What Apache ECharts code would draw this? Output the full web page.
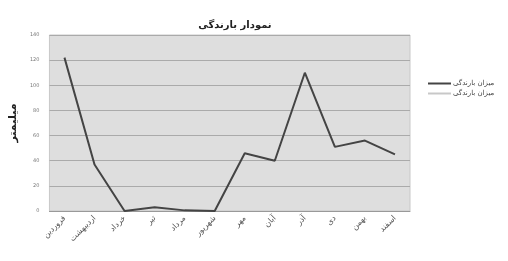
<!DOCTYPE html>
<html>
<head>
<meta charset="utf-8">
<script src="https://cdn.jsdelivr.net/npm/echarts@6/dist/echarts.min.js"></script>
<style>
  html, body { margin: 0; padding: 0; background: #fff; }
  #chart { width: 508px; height: 261px; }
</style>
</head>
<body>
<div id="chart"></div>
<script>
const months = ["فروردین", "اردیبهشت", "خرداد", "تیر", "مرداد", "شهریور", "مهر", "آبان", "آذر", "دی", "بهمن", "اسفند"];
const rainfall = [122, 37, 0, 3, 0.5, 0, 46, 40, 110, 51, 56, 45];
const rainfall2 = [];
const seriesNames = ["میزان بارندگی", "میزان بارندگی "];

const mychart = echarts.init(document.getElementById("chart"));
const font = "'DejaVu Sans', 'Noto Sans', sans-serif";
const option = {
  animation: false,
  title: {
    text: "نمودار بارندگی",
    left: 230,
    textAlign: "center",
    top: 15,
    textStyle: { fontSize: 10, fontWeight: "bold", color: "#222", fontFamily: font }
  },
  legend: {
    orient: "vertical",
    left: 423,
    top: 75,
    itemWidth: 23,
    itemHeight: 2,
    itemGap: 3,
    icon: "rect",
    textStyle: { fontSize: 7, color: "#444", fontFamily: font, padding: [0, 0, 0, -3] },
    data: seriesNames
  },
  grid: {
    left: 45,
    right: 98,
    top: 35,
    bottom: 50,
    show: true,
    backgroundColor: "#dedede",
    borderColor: "#c8c8c8",
    borderWidth: 1
  },
  xAxis: {
    type: "category",
    data: months,
    boundaryGap: true,
    axisLine: { lineStyle: { color: "#999" } },
    axisTick: { show: false },
    axisLabel: {
      interval: 0,
      rotate: 45,
      fontSize: 8,
      color: "#555",
      fontFamily: font,
      margin: 6
    }
  },
  yAxis: {
    type: "value",
    min: 0,
    max: 140,
    interval: 20,
    name: "میلیمتر",
    nameLocation: "middle",
    nameRotate: 90,
    nameGap: 23,
    nameTextStyle: { fontSize: 11, fontWeight: "bold", color: "#222", fontFamily: font },
    axisLine: { show: false },
    axisTick: { show: false },
    axisLabel: { fontSize: 5, color: "#777", fontFamily: font, margin: 10 },
    splitLine: { lineStyle: { color: "#aaaaaa", width: 1 } }
  },
  series: [
    {
      name: seriesNames[0],
      type: "line",
      data: rainfall,
      symbol: "none",
      lineStyle: { color: "#444", width: 2 },
      itemStyle: { color: "#444" }
    },
    {
      name: seriesNames[1],
      type: "line",
      data: rainfall2,
      symbol: "none",
      lineStyle: { color: "#c8c8c8", width: 2 },
      itemStyle: { color: "#c8c8c8" }
    }
  ]
};
mychart.setOption(option);
</script>
</body>
</html>
